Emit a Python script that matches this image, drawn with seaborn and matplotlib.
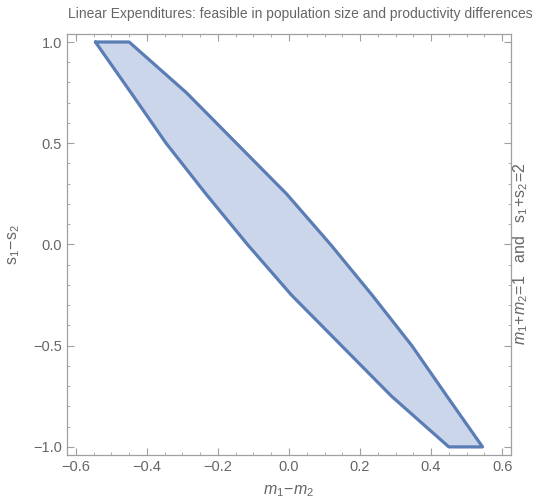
import matplotlib
matplotlib.use("Agg")
import matplotlib.pyplot as plt
import seaborn as sns
import pandas as pd
from matplotlib.ticker import MultipleLocator, FuncFormatter

# Boundary of the feasible region
s_diff = [1.0, 0.75, 0.5, 0.25, 0.0, -0.25, -0.5, -0.75, -1.0]
left_m_diff = [-0.545, -0.445, -0.346, -0.234, -0.117, 0.007, 0.148, 0.289, 0.45]
right_m_diff = [-0.45, -0.289, -0.148, -0.007, 0.117, 0.234, 0.346, 0.445, 0.545]

title = "Linear Expenditures: feasible in population size and productivity differences"
x_label = r"$m_1\!-\!m_2$"
y_label = r"$\mathregular{s_1\!-\!s_2}$"
right_label = r"$m_1\!+\!m_2\!=\!1$   and   $\mathregular{s_1\!+\!s_2\!=\!2}$"

# closed outline: down the left side, back up the right side
outline = pd.DataFrame({
    "x": left_m_diff + right_m_diff[::-1] + [left_m_diff[0]],
    "y": s_diff + s_diff[::-1] + [s_diff[0]],
})

sns.set_style("ticks")
plt.rcParams["font.family"] = ["Liberation Sans", "DejaVu Sans"]
plt.rcParams["mathtext.fontset"] = "custom"
plt.rcParams["mathtext.rm"] = "Liberation Sans"
plt.rcParams["mathtext.it"] = "Liberation Sans:italic"
text_col = "#666666"
frame_col = "#a0a0a0"
line_col = "#5b7db6"

fig = plt.figure(figsize=(5.39, 5.03), dpi=100)
ax = fig.add_axes([0.1243, 0.0954, 0.8237, 0.8372])

ax.fill(outline["x"], outline["y"], color="#cbd6ea", lw=0, zorder=1)
sns.lineplot(data=outline, x="x", y="y", sort=False, estimator=None,
             color=line_col, lw=2.3, ax=ax, zorder=2)

ax.set_xlim(-0.625, 0.625)
ax.set_ylim(-1.04, 1.04)
ax.xaxis.set_major_locator(MultipleLocator(0.2))
ax.xaxis.set_minor_locator(MultipleLocator(0.05))
ax.yaxis.set_major_locator(MultipleLocator(0.5))
ax.yaxis.set_minor_locator(MultipleLocator(0.1))
fmt = FuncFormatter(lambda v, p: f"{v:.1f}".replace("-", "\u2212"))
ax.xaxis.set_major_formatter(fmt)
ax.yaxis.set_major_formatter(fmt)

ax.tick_params(which="both", direction="in", top=True, right=True,
               color=frame_col, labelcolor=text_col, labelsize=10.5)
ax.tick_params(which="major", length=5, width=0.8)
ax.tick_params(which="minor", length=2.5, width=0.6)
for sp in ax.spines.values():
    sp.set_color(frame_col)
    sp.set_linewidth(0.9)

ax.set_xlabel(x_label, color=text_col, fontsize=11.5, labelpad=7)
ax.set_ylabel(y_label, color=text_col, fontsize=11.5, labelpad=8)
fig.text(0.966, 0.495, right_label, rotation=90, ha="center", va="center",
         color=text_col, fontsize=11.5)
fig.text(0.557, 0.972, title, ha="center", va="center", color=text_col, fontsize=10)

fig.savefig("out.png", dpi=100)
